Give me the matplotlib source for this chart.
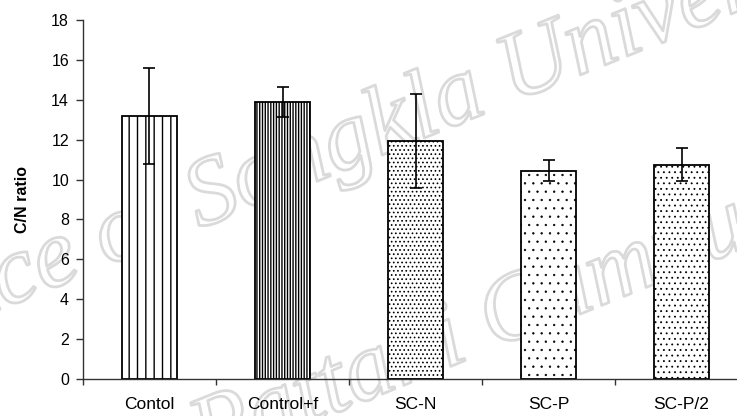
import matplotlib.pyplot as plt
import matplotlib.patheffects as pe
import numpy as np

# C/N ratio per treatment, mean and error
groups = ['Contol', 'Control+f', 'SC-N', 'SC-P', 'SC-P/2']
cn_ratio = [13.2, 13.9, 11.95, 10.45, 10.75]
cn_err = [2.4, 0.75, 2.35, 0.53, 0.83]
hatches = ['||', '||||||', '....', '..', '...']
hatch_lw = [1.0, 1.0, 0.7, 0.45, 0.6]

plt.rcParams['font.family'] = ['Liberation Sans', 'DejaVu Sans']

fig = plt.figure(figsize=(7.37, 4.16), dpi=100)

# faint outlined watermark, behind the axes
wm = dict(fontsize=70, family='Liberation Serif', style='italic',
          color='none', zorder=-1, ha='left', va='baseline',
          rotation=22, transform=None,
          path_effects=[pe.Stroke(linewidth=2.0, foreground='#dadada')])
fig.text(-182, 45, 'Prince of Songkla University', **wm)
fig.text(180, -48, 'Pattani Campus', **wm)

ax = fig.add_axes([0.1126, 0.0889, 0.9024, 0.863])
ax.patch.set_alpha(0)

x = np.arange(len(groups))
for xi, val, h, lw in zip(x, cn_ratio, hatches, hatch_lw):
    with plt.rc_context({'hatch.linewidth': lw}):
        ax.bar(xi, val, width=0.41, color='white', edgecolor='black',
               linewidth=1.3, hatch=h, zorder=2)
ax.errorbar(x, cn_ratio, yerr=cn_err, fmt='none', ecolor='black',
            elinewidth=1.2, capsize=4.3, capthick=1.2, zorder=3)

ax.set_xlim(-0.5, 4.5)
ax.set_ylim(0, 18)
ax.set_yticks(np.arange(0, 19, 2))
ax.set_xticks(x)
ax.set_xticklabels(groups, fontsize=12.5)
ax.set_xticks(np.arange(-0.5, 5, 1), minor=True)
ax.tick_params(axis='x', which='major', length=0, pad=13)
ax.tick_params(axis='x', which='minor', length=4, width=1, direction='out',
               color='#333333')
ax.tick_params(axis='y', labelsize=11.5, length=5, width=1, pad=5,
               color='#333333')
ax.set_ylabel('C/N ratio', fontsize=11.5, fontweight='bold')
ax.yaxis.set_label_coords(-0.08, 0.5)

for s in ['top', 'right']:
    ax.spines[s].set_visible(False)
for s in ['left', 'bottom']:
    ax.spines[s].set_color('#333333')
    ax.spines[s].set_linewidth(1)

fig.savefig('out.png', dpi=100)
